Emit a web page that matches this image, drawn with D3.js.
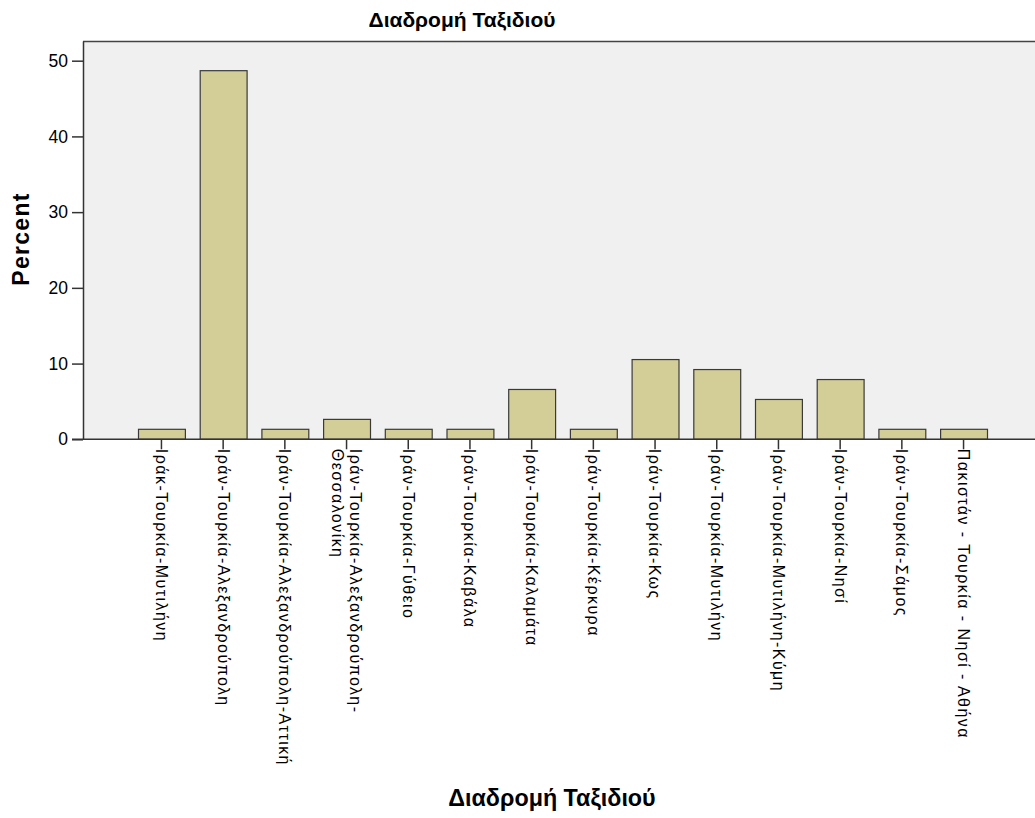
<!DOCTYPE html>
<html>
<head>
<meta charset="utf-8">
<script src="https://cdn.jsdelivr.net/npm/d3@7"></script>
<style>
  html, body { margin: 0; padding: 0; background: #fff; }
  svg { display: block; }
  text { font-family: "Liberation Sans", Arial, sans-serif; fill: #000; }
</style>
</head>
<body>
<svg id="chart" width="1035" height="818"></svg>
<script>
const categories = [
  ["Ιράκ-Τουρκία-Μυτιλήνη"],
  ["Ιράν-Τουρκία-Αλεξανδρούπολη"],
  ["Ιράν-Τουρκία-Αλεξανδρούπολη-Αττική"],
  ["Ιράν-Τουρκία-Αλεξανδρούπολη-", "Θεσσαλονίκη"],
  ["Ιράν-Τουρκία-Γύθειο"],
  ["Ιράν-Τουρκία-Καβάλα"],
  ["Ιράν-Τουρκία-Καλαμάτα"],
  ["Ιράν-Τουρκία-Κέρκυρα"],
  ["Ιράν-Τουρκία-Κως"],
  ["Ιράν-Τουρκία-Μυτιλήνη"],
  ["Ιράν-Τουρκία-Μυτιλήνη-Κύμη"],
  ["Ιράν-Τουρκία-Νησί"],
  ["Ιράν-Τουρκία-Σάμος"],
  ["Πακιστάν - Τουρκία - Νησί - Αθήνα"]
];
const percents = [1.32, 48.68, 1.32, 2.63, 1.32, 1.32, 6.58, 1.32, 10.53, 9.21, 5.26, 7.89, 1.32, 1.32];
const yTicks = [0, 10, 20, 30, 40, 50];
const chartTitle = "Διαδρομή Ταξιδιού";
const xTitle = "Διαδρομή Ταξιδιού";
const yTitle = "Percent";

const svg = d3.select("#chart");
const plot = { left: 83, top: 41, right: 1035, bottom: 439.3 };

const keys = categories.map((c, i) => i);
const x = d3.scaleBand()
  .domain(keys)
  .range([130.6, 994.4])
  .paddingInner(0.24)
  .paddingOuter(0.12);

const y = d3.scaleLinear()
  .domain([0, 52.6])
  .range([plot.bottom, plot.top]);

// background
svg.append("rect")
  .attr("x", plot.left).attr("y", plot.top)
  .attr("width", plot.right - plot.left).attr("height", plot.bottom - plot.top)
  .attr("fill", "#f0f0f0");

// top border
svg.append("line")
  .attr("x1", plot.left).attr("x2", plot.right)
  .attr("y1", plot.top + 0.5).attr("y2", plot.top + 0.5)
  .attr("stroke", "#444").attr("stroke-width", 1.5);

// bars
svg.append("g").selectAll("rect")
  .data(percents)
  .join("rect")
  .attr("x", (d, i) => x(i) + 0.5)
  .attr("y", d => y(d))
  .attr("width", x.bandwidth())
  .attr("height", d => y(0) - y(d))
  .attr("fill", "#d3ce97")
  .attr("stroke", "#3a3a3a")
  .attr("stroke-width", 1.2);

// y axis
const yAxis = svg.append("g")
  .attr("transform", `translate(${plot.left},0)`)
  .call(d3.axisLeft(y).tickValues(yTicks).tickSize(11).tickSizeOuter(0).tickPadding(4));
yAxis.select(".domain").attr("stroke", "#333").attr("stroke-width", 1.5);
yAxis.selectAll(".tick line").attr("stroke", "#333").attr("stroke-width", 1.5);
yAxis.selectAll(".tick text")
  .style("font-family", "'Liberation Sans', Arial, sans-serif")
  .style("font-size", "17.5px").attr("fill", "#222");

// x axis
const xAxis = svg.append("g")
  .attr("transform", `translate(0,${plot.bottom})`)
  .call(d3.axisBottom(x).tickSize(10).tickSizeOuter(0).tickFormat(() => ""));
xAxis.select(".domain").attr("stroke", "#333").attr("stroke-width", 1.5)
  .attr("d", `M${plot.left - 11},0H${plot.right}`);
xAxis.selectAll(".tick line").attr("stroke", "#333").attr("stroke-width", 1.5);

// category labels (rotated)
const labels = svg.append("g").selectAll("text")
  .data(categories)
  .join("text")
  .attr("transform", (d, i) => `translate(${x(i) + x.bandwidth() / 2},${plot.bottom + 9.5}) rotate(90)`)
  .style("font-size", "16px")
  .style("letter-spacing", "1.45px")
  .attr("fill", "#111");
labels.each(function(lines) {
  const t = d3.select(this);
  const n = lines.length;
  lines.forEach((ln, j) => {
    t.append("tspan")
      .attr("x", 0)
      .attr("y", 0)
      .attr("dy", `${0.35 + (j - (n - 1) / 2) * 1.1}em`)
      .text(ln);
  });
});

// chart title
svg.append("text")
  .attr("x", 462).attr("y", 27)
  .attr("text-anchor", "middle")
  .style("font-size", "21px").style("font-weight", "bold")
  .text(chartTitle);

// x axis title
svg.append("text")
  .attr("x", 552).attr("y", 806)
  .attr("text-anchor", "middle")
  .style("font-size", "23.3px").style("font-weight", "bold")
  .text(xTitle);

// y axis title
svg.append("text")
  .attr("transform", `translate(29,239) rotate(-90)`)
  .attr("text-anchor", "middle")
  .style("font-size", "23px").style("font-weight", "bold")
  .style("letter-spacing", "1.3px")
  .text(yTitle);
</script>
</body>
</html>
